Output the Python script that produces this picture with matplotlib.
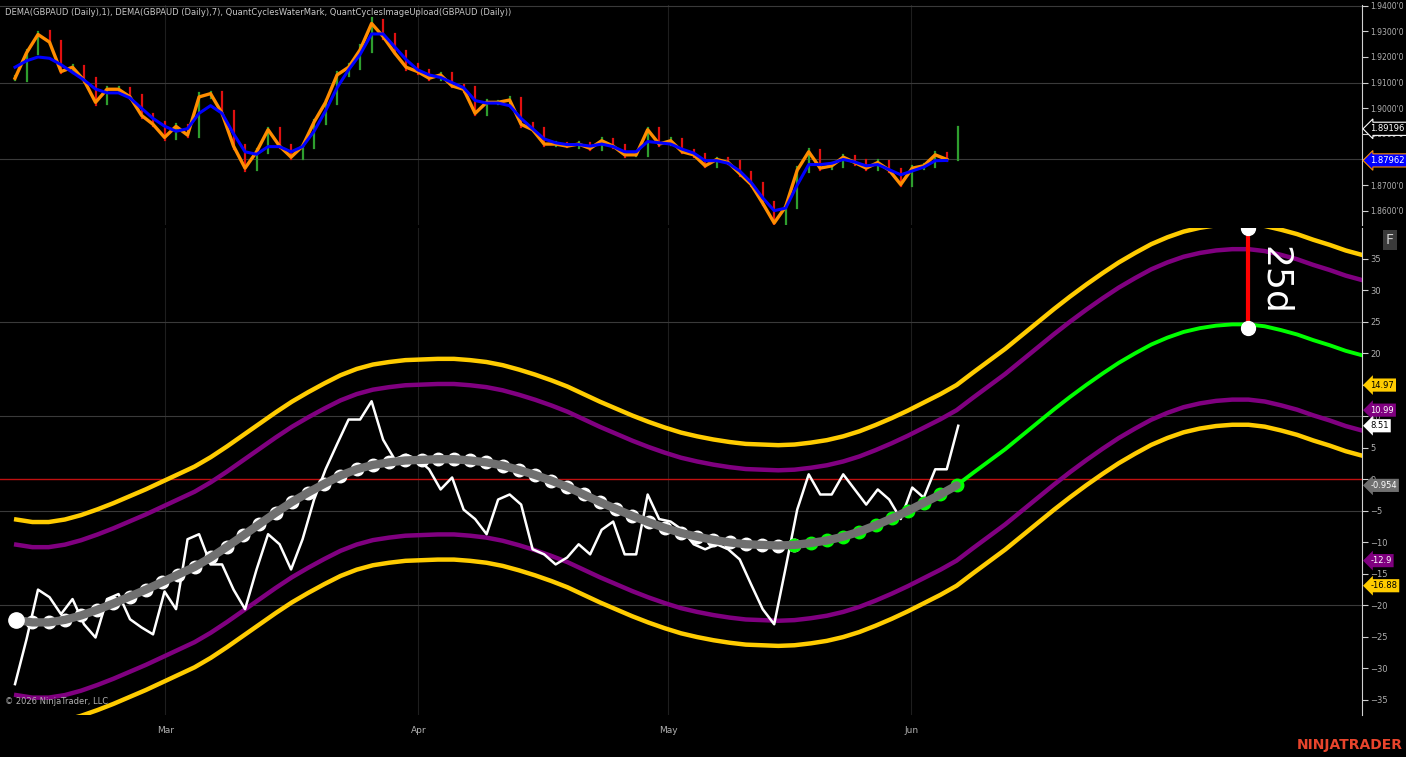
import numpy as np
import matplotlib
matplotlib.use("Agg")
import matplotlib.pyplot as plt
import matplotlib.transforms as mtransforms

# ---- data ----
close = [1.9117, 1.9216, 1.9288, 1.9258, 1.9143, 1.9160, 1.9109, 1.9023, 1.9074, 1.9074,
         1.9044, 1.8972, 1.8937, 1.8886, 1.8929, 1.8895, 1.9044, 1.9057, 1.8980, 1.8852,
         1.8766, 1.8830, 1.8916, 1.8852, 1.8809, 1.8852, 1.8946, 1.9023, 1.9130, 1.9160,
         1.9228, 1.9331, 1.9280, 1.9216, 1.9160, 1.9143, 1.9117, 1.9130, 1.9087, 1.9074,
         1.8980, 1.9023, 1.9023, 1.9032, 1.8937, 1.8916, 1.8860, 1.8860, 1.8852, 1.8860,
         1.8843, 1.8873, 1.8852, 1.8818, 1.8818, 1.8916, 1.8860, 1.8873, 1.8830, 1.8818,
         1.8775, 1.8800, 1.8788, 1.8745, 1.8702, 1.8629, 1.8552, 1.8616, 1.8758, 1.8830,
         1.8766, 1.8775, 1.8809, 1.8788, 1.8766, 1.8788, 1.8758, 1.8702, 1.8766, 1.8775,
         1.8818, 1.8800, 1.8920]
dema7 = [1.9160, 1.9185, 1.9200, 1.9195, 1.9170, 1.9140, 1.9110, 1.9075, 1.9060, 1.9060,
         1.9040, 1.9000, 1.8960, 1.8930, 1.8910, 1.8920, 1.8980, 1.9010, 1.8980, 1.8900,
         1.8830, 1.8820, 1.8850, 1.8850, 1.8830, 1.8850, 1.8910, 1.8990, 1.9080, 1.9150,
         1.9210, 1.9290, 1.9290, 1.9240, 1.9190, 1.9150, 1.9130, 1.9120, 1.9100, 1.9080,
         1.9030, 1.9020, 1.9020, 1.9010, 1.8960, 1.8920, 1.8880, 1.8865, 1.8858, 1.8858,
         1.8852, 1.8860, 1.8850, 1.8830, 1.8830, 1.8870, 1.8865, 1.8860, 1.8840, 1.8825,
         1.8795, 1.8795, 1.8785, 1.8755, 1.8710, 1.8650, 1.8600, 1.8610, 1.8700, 1.8780,
         1.8780, 1.8785, 1.8800, 1.8790, 1.8775, 1.8780, 1.8760, 1.8740, 1.8755, 1.8770,
         1.8795, 1.8796]
wick_up = [8, 12, 10, 14, 6, 9, 5, 8, 7, 10, 6, 8, 5, 9, 10, 6, 14, 8, 5, 8,
           6, 10, 8, 7, 5, 6, 9, 10, 12, 14, 18, 20, 15, 10, 8, 12, 7, 6, 9, 5,
           8, 10, 6, 12, 7, 5, 6, 8, 5, 7, 6, 10, 6, 5, 7, 8, 6, 9, 5, 6,
           5, 6, 5, 4, 6, 5, 6, 8, 14, 12, 8, 10, 9, 6, 8, 10, 6, 5, 8, 6,
           10, 6, 8]
wick_dn = [8, 10, 6, 9, 7, 6, 8, 10, 6, 5, 7, 10, 8, 9, 6, 8, 7, 6, 8, 10,
           12, 8, 6, 9, 8, 7, 6, 8, 6, 5, 6, 7, 8, 6, 10, 8, 6, 7, 6, 10,
           8, 6, 5, 7, 10, 6, 8, 6, 5, 6, 7, 5, 6, 8, 5, 6, 7, 5, 6, 7,
           6, 5, 6, 8, 7, 8, 6, 9, 6, 8, 6, 5, 6, 8, 7, 6, 8, 7, 6, 5,
           6, 7, 3]

detrend = [-32.5, -25.4, -17.5, -18.7, -21.4, -19.0, -23.0, -25.1, -19.0, -18.2,
           -22.2, -23.5, -24.6, -17.8, -20.6, -9.5, -8.7, -13.5, -13.5, -17.5,
           -20.6, -14.3, -8.7, -10.3, -14.3, -9.5, -3.2, 1.6, 5.6, 9.5,
           9.5, 12.4, 6.3, 3.2, 3.9, 3.2, 1.6, -1.6, 0.3, -4.8,
           -6.3, -8.7, -3.2, -2.4, -4.0, -11.1, -11.9, -13.5, -12.4, -10.3,
           -11.9, -8.0, -6.7, -11.9, -11.9, -2.4, -6.3, -6.7, -8.0, -10.3,
           -11.1, -10.3, -11.1, -12.7, -16.7, -20.6, -23.0, -14.0, -4.8, 0.8,
           -2.4, -2.4, 0.8, -1.6, -4.0, -1.6, -3.2, -6.3, -1.3, -2.9,
           1.6, 1.6, 8.51]

# dominant cycle, one value every 2 days (day 2 .. 168)
cycle = [-22.3, -22.7, -22.7, -22.3, -21.6, -20.7, -19.7, -18.6, -17.5, -16.3,
         -15.1, -13.9, -12.4, -10.7, -8.9, -7.1, -5.3, -3.6, -2.1, -0.7,
         0.6, 1.6, 2.3, 2.7, 3.0, 3.1, 3.2, 3.2, 3.0, 2.7,
         2.2, 1.5, 0.7, -0.2, -1.2, -2.4, -3.6, -4.7, -5.8, -6.8,
         -7.7, -8.5, -9.1, -9.6, -10.0, -10.3, -10.4, -10.5, -10.4, -10.1,
         -9.7, -9.1, -8.3, -7.3, -6.2, -5.0, -3.7, -2.4, -0.954, 1.0,
         2.9, 4.8, 6.9, 9.0, 11.1, 13.1, 15.0, 16.8, 18.5, 20.0,
         21.4, 22.5, 23.4, 24.0, 24.4, 24.6, 24.6, 24.3, 23.7, 23.0,
         22.1, 21.3, 20.4, 19.7]
band_outer = 15.93
band_inner = 11.94
peak_day, peak_top, peak_bottom = 154, 39.9, 24.0

month_labels = ["Mar", "Apr", "May", "Jun"]
month_days = [20.4, 51.6, 82.4, 112.4]

# ---- layout ----
BG = "black"
GRID = "#3a3a3a"
TXT = "#b0b0b0"
W, H = 1406, 757
fig = plt.figure(figsize=(W / 100, H / 100), dpi=100, facecolor=BG)
ax1 = fig.add_axes([0, 1 - 225 / H, 1362 / W, 220 / H], facecolor=BG)
ax2 = fig.add_axes([0, 1 - 715 / H, 1362 / W, 487 / H], facecolor=BG, sharex=ax1)

bar_x = np.linspace(1.85, 118.2, len(close))
cyc_x = np.arange(2, 2 + 2 * len(cycle), 2)
XMAX = 1362 / 8.107

for ax in (ax1, ax2):
    ax.set_xlim(0, XMAX)
    for s in ("top", "left", "bottom"):
        ax.spines[s].set_visible(False)
    ax.spines["right"].set_color("#d0d0d0")
    ax.yaxis.tick_right()
    ax.tick_params(axis="y", colors="#d0d0d0", labelcolor=TXT, labelsize=6,
                   length=4, direction="out", pad=2)
    ax.tick_params(axis="x", length=0)
    for d in month_days:
        ax.axvline(d, color="#1e1e1e", lw=0.8, zorder=0)

# ---- top panel: price bars ----
prev = [close[0]] + close[:-1]
for i, (x, c) in enumerate(zip(bar_x, close)):
    o = prev[i]
    hi = max(o, c) + wick_up[i] * 1e-4
    lo = min(o, c) - wick_dn[i] * 1e-4
    col = "#2e9e2e" if c >= o else "#e01010"
    ax1.plot([x, x], [lo, hi], color=col, lw=1.6, zorder=2)
ax1.plot(bar_x[:len(close) - 1], close[:-1], color="#ff8c00", lw=2.4, zorder=3)
ax1.plot(bar_x[:len(dema7)], dema7, color="#0000ff", lw=2.2, zorder=4)
ax1.set_ylim(1.8544, 1.9403)
ax1.set_yticks([1.86, 1.87, 1.88, 1.89, 1.90, 1.91, 1.92, 1.93, 1.94])
ax1.set_yticklabels([f"{v:.4f}'0" for v in ax1.get_yticks()])
ax1.tick_params(axis="y", labelsize=5.5)
for v in (1.88, 1.91, 1.94):
    ax1.axhline(v, color=GRID, lw=0.8, zorder=0)
ax1.tick_params(axis="x", labelbottom=False)
ax1.text(0.004, 0.985, "DEMA(GBPAUD (Daily),1), DEMA(GBPAUD (Daily),7), QuantCyclesWaterMark, "
         "QuantCyclesImageUpload(GBPAUD (Daily))", transform=ax1.transAxes,
         color="#c8c8c8", fontsize=6, va="top", ha="left")

# ---- bottom panel: cycle ----
cyc = np.array(cycle)
gray_n = 49      # up to day 98
dot_end = 59     # up to day 118
for off, col in ((band_outer, "#ffcc00"), (band_inner, "#800080")):
    ax2.plot(cyc_x, cyc + off, color=col, lw=3.2, zorder=2)
    ax2.plot(cyc_x, cyc - off, color=col, lw=3.2, zorder=2)
ax2.axhline(0, color="#c01010", lw=1.0, zorder=1)
for v in (25, 10, -5, -20):
    ax2.axhline(v, color=GRID, lw=0.8, zorder=0)

ax2.plot(cyc_x[dot_end - 1:], cyc[dot_end - 1:], color="#00ff00", lw=2.8, zorder=3)
ax2.plot(bar_x, detrend, color="white", lw=1.8, zorder=4)
ax2.plot(cyc_x[:dot_end], cyc[:dot_end], color="#707070", lw=6, zorder=5,
         solid_capstyle="round")
ax2.plot(cyc_x[:gray_n], cyc[:gray_n], "o", ms=9, mfc="white", mec="white", zorder=4.5)
ax2.plot(cyc_x[gray_n - 1:dot_end], cyc[gray_n - 1:dot_end], "o", ms=9,
         mfc="#00ff00", mec="#00ff00", zorder=4.5)
ax2.plot([cyc_x[0]], [cyc[0]], "o", ms=11, color="white", zorder=6)

ax2.plot([peak_day, peak_day], [peak_top, peak_bottom], color="#ff0000", lw=3, zorder=6)
ax2.plot([peak_day, peak_day], [peak_top, peak_bottom], "o", ms=10, color="white", zorder=7)
ax2.text(peak_day + 1.2, 31.5, "25d", color="white", fontsize=26, rotation=-90,
         ha="left", va="center", zorder=7)

ax2.set_ylim(-37.4, 39.9)
ax2.set_yticks(np.arange(-35, 40, 5))
ax2.set_xticks(month_days)
ax2.set_xticklabels(month_labels)
ax2.tick_params(axis="x", labelcolor=TXT, labelsize=6.5, pad=8)

# right-edge value flags
trans = mtransforms.blended_transform_factory(ax2.transAxes, ax2.transData)
flags = [(14.97, "#ffcc00", "black"), (10.99, "#800080", "white"), (8.51, "white", "black"),
         (-0.954, "#707070", "white"), (-12.9, "#800080", "white"), (-16.88, "#ffcc00", "black")]
for v, fc, tc in flags:
    ax2.text(1.006, v, f"{v:g}", transform=trans, color=tc,
             fontsize=6, va="center", ha="left", clip_on=False, zorder=10,
             bbox=dict(boxstyle="larrow,pad=0.25", fc=fc, ec="none"))
trans1 = mtransforms.blended_transform_factory(ax1.transAxes, ax1.transData)
for v, fc, tc, ec in ((1.89196, "black", "white", "white"), (1.87962, "#0000ff", "white", "#ff8c00")):
    ax1.text(1.006, v, f"{v:.5f}", transform=trans1, color=tc, fontsize=6,
             va="center", ha="left", clip_on=False, zorder=10,
             bbox=dict(boxstyle="larrow,pad=0.25", fc=fc, ec=ec, lw=0.8))

fig.text(1390 / W, 1 - 240 / H, "F", color="#d0d0d0", fontsize=10, ha="center", va="center",
         bbox=dict(boxstyle="square,pad=0.25", fc="#3a3a3a", ec="none"))
fig.text(5 / W, 1 - 701 / H, "\u00a9 2026 NinjaTrader, LLC", color="#b0b0b0", fontsize=6,
         ha="left", va="center")
fig.text(1403 / W, 1 - 745 / H, "NINJATRADER", color="#e8442c", fontsize=10,
         fontweight="bold", ha="right", va="center")

fig.savefig("out.png", dpi=100, facecolor=BG)
